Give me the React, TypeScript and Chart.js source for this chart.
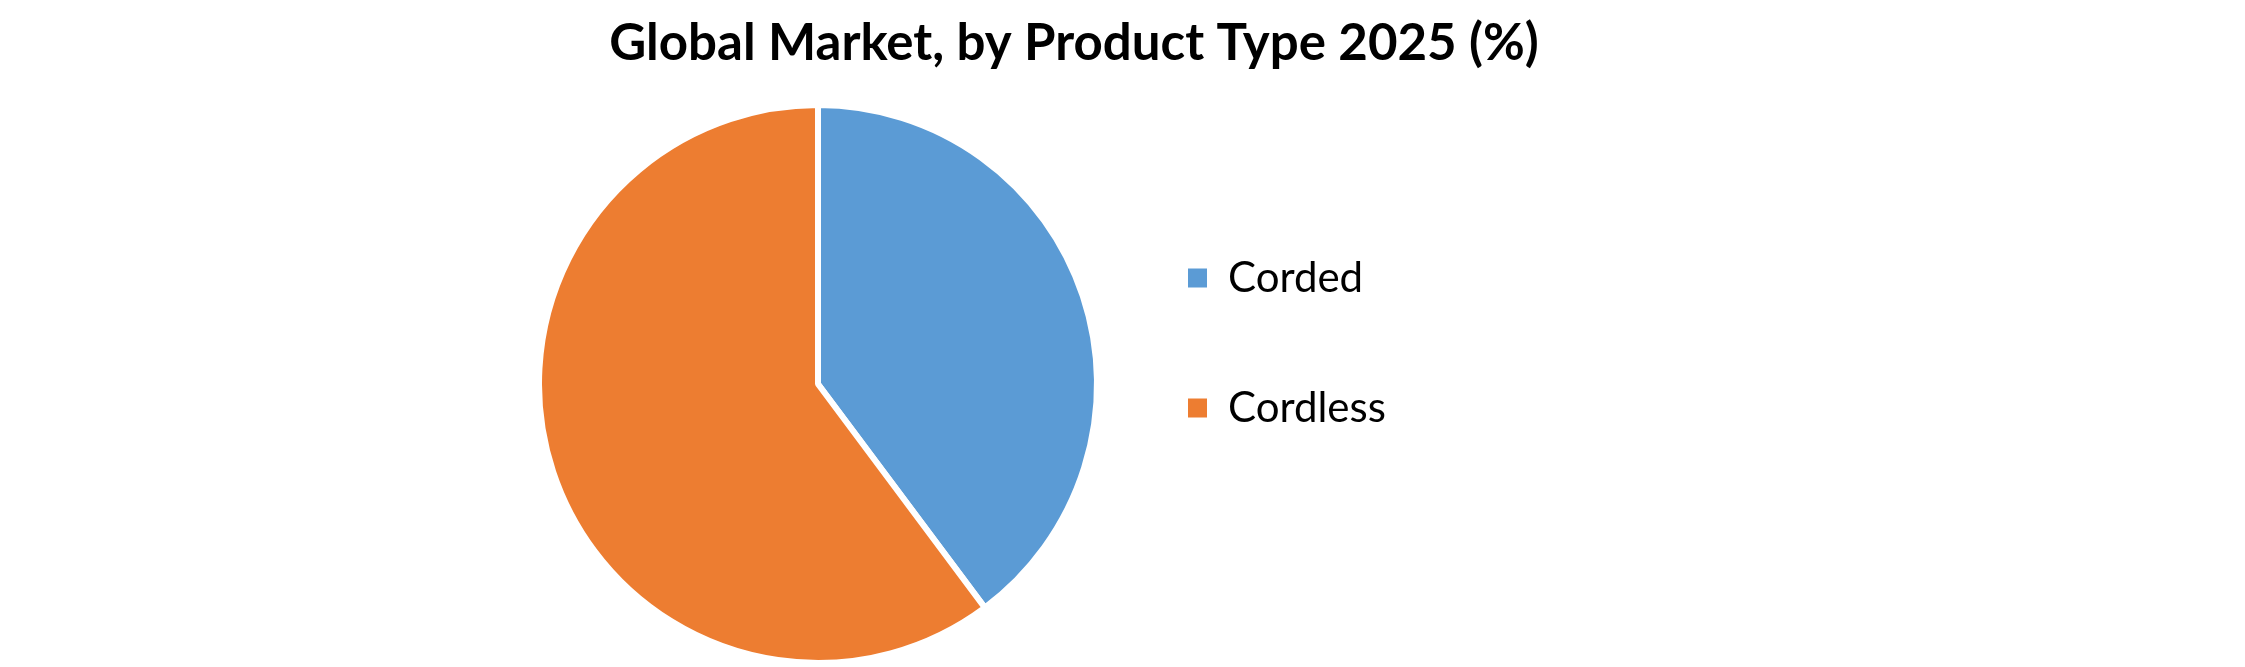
import { useEffect, useRef } from "react";
import { Chart, registerables, layouts } from "chart.js";

Chart.register(...registerables);

const productTypes = ["Corded", "Cordless"];
const shares2025 = [39.8, 60.2]; // % share
const sliceColors = ["#5B9BD5", "#ED7D31"];
const chartTitle = "Global Market, by Product Type 2025 (%)";

const CANVAS_W = 2245;
const CANVAS_H = 667;
const PAD = { top: 19, right: 633, bottom: 0, left: 536 };
const LEGEND_LEFT = 1100; // where the legend column should start

// empty box to the right of the legend, so the legend sits next to the pie
// while the title stays centred on the wider area
const legendSpacer = {
    id: "legendSpacer",
    beforeInit(chart: any) {
        layouts.addBox(chart, {
            position: "right",
            weight: 1500,
            fullSize: false,
            options: { display: false },
            width: 0,
            height: 0,
            left: 0,
            top: 0,
            right: 0,
            bottom: 0,
            isHorizontal: () => false,
            update(this: any, _maxWidth: number, maxHeight: number) {
                const legendWidth = chart.legend ? chart.legend.width : 0;
                this.width = Math.max(0, chart.width - PAD.right - LEGEND_LEFT - legendWidth);
                this.height = maxHeight;
            },
            draw() {},
        } as any);
    },
};

const App = () => {
    const chartRef = useRef<HTMLCanvasElement | null>(null);
    const chartInstanceRef = useRef<Chart | null>(null);

    useEffect(() => {
        if (!chartRef.current) return;
        const ctx = chartRef.current.getContext("2d");
        if (!ctx) return;
        if (chartInstanceRef.current) {
            chartInstanceRef.current.destroy();
        }

        chartInstanceRef.current = new Chart(ctx, {
            type: "pie",
            data: {
                labels: productTypes,
                datasets: [
                    {
                        data: shares2025,
                        backgroundColor: sliceColors,
                        borderColor: "#FFFFFF",
                        borderWidth: 6,
                    },
                ],
            },
            options: {
                responsive: true,
                maintainAspectRatio: false,
                animation: false,
                layout: { padding: PAD },
                plugins: {
                    title: {
                        display: true,
                        text: chartTitle,
                        color: "#000000",
                        font: { family: "Lato", size: 51, weight: "bold", lineHeight: 1 },
                        padding: { top: -1, bottom: 32 },
                    },
                    legend: {
                        position: "right",
                        labels: {
                            color: "#000000",
                            font: { family: "Lato", size: 42 },
                            boxWidth: 19,
                            boxHeight: 19,
                            padding: 88,
                            generateLabels: () =>
                                productTypes.map((text, i) => ({
                                    text,
                                    fillStyle: sliceColors[i],
                                    strokeStyle: sliceColors[i],
                                    lineWidth: 0,
                                    fontColor: "#000000",
                                    hidden: false,
                                    index: i,
                                })),
                        },
                    },
                    tooltip: { enabled: false },
                },
            },
            plugins: [legendSpacer],
        });

        return () => {
            if (chartInstanceRef.current) {
                chartInstanceRef.current.destroy();
                chartInstanceRef.current = null;
            }
        };
    }, []);

    return (
        <div
            style={{
                position: "absolute",
                left: 0,
                top: 0,
                width: CANVAS_W,
                height: CANVAS_H,
                background: "#FFFFFF",
            }}
        >
            <canvas ref={chartRef} />
        </div>
    );
};

export default App;
